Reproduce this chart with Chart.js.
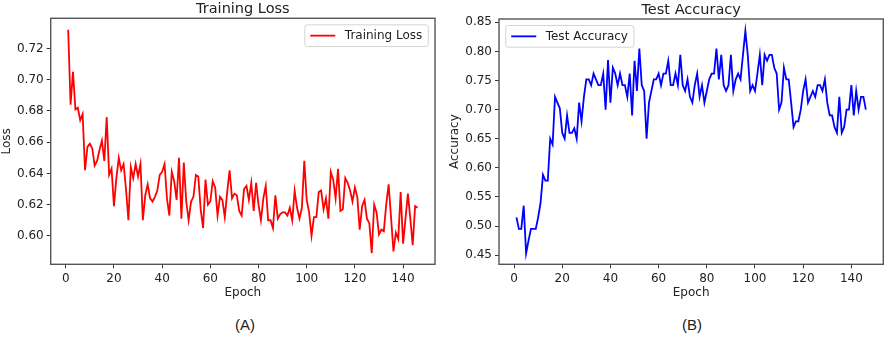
<!DOCTYPE html>
<html>
<head>
<meta charset="utf-8">
<script src="https://cdn.jsdelivr.net/npm/chart.js@4.4.0/dist/chart.umd.min.js"></script>
<style>
  body { margin: 0; background: #fff; width: 886px; height: 338px; position: relative; overflow: hidden; }
  canvas { position: absolute; top: 0; }
  #lossChart { left: 0; }
  #accChart { left: 443px; }
  .cap { position: absolute; top: 316px; font: 15px "Liberation Sans", Arial, sans-serif; color: #222; transform: translateX(-50%); }
</style>
</head>
<body>
<canvas id="lossChart" width="443" height="300"></canvas>
<canvas id="accChart" width="443" height="300"></canvas>
<div class="cap" style="left:245px">(A)</div>
<div class="cap" style="left:692px">(B)</div>
<script>
// values, epoch 1..146
const epochs = Array.from({ length: 146 }, (_, i) => i + 1);

const trainingLoss = [
  0.732, 0.684, 0.705, 0.681, 0.682, 0.674, 0.678, 0.642, 0.657, 0.659,
  0.656, 0.645, 0.648, 0.655, 0.661, 0.648, 0.676, 0.639, 0.643, 0.619,
  0.637, 0.650, 0.642, 0.646, 0.630, 0.610, 0.644, 0.637, 0.646, 0.638,
  0.646, 0.610, 0.626, 0.633, 0.624, 0.622, 0.625, 0.629, 0.639, 0.641,
  0.646, 0.624, 0.613, 0.641, 0.635, 0.623, 0.650, 0.611, 0.647, 0.622,
  0.610, 0.622, 0.625, 0.639, 0.638, 0.617, 0.605, 0.636, 0.620, 0.622,
  0.635, 0.631, 0.613, 0.625, 0.623, 0.612, 0.628, 0.642, 0.624, 0.627,
  0.626, 0.616, 0.613, 0.630, 0.632, 0.623, 0.634, 0.616, 0.634, 0.620,
  0.610, 0.624, 0.632, 0.610, 0.610, 0.605, 0.626, 0.611, 0.614, 0.615,
  0.615, 0.613, 0.618, 0.610, 0.629, 0.618, 0.611, 0.618, 0.648, 0.623,
  0.615, 0.600, 0.612, 0.612, 0.628, 0.629, 0.617, 0.624, 0.611, 0.641,
  0.636, 0.624, 0.643, 0.616, 0.617, 0.637, 0.634, 0.629, 0.622, 0.631,
  0.625, 0.604, 0.619, 0.623, 0.611, 0.608, 0.589, 0.620, 0.615, 0.601,
  0.604, 0.603, 0.620, 0.633, 0.612, 0.590, 0.602, 0.598, 0.628, 0.595,
  0.611, 0.627, 0.611, 0.594, 0.619, 0.618
];

const testAccuracy = [
  0.515, 0.495, 0.495, 0.535, 0.453, 0.475, 0.495, 0.495, 0.495, 0.515,
  0.540, 0.588, 0.578, 0.578, 0.650, 0.640, 0.722, 0.712, 0.702, 0.660,
  0.650, 0.690, 0.660, 0.660, 0.668, 0.650, 0.712, 0.680, 0.722, 0.752,
  0.752, 0.742, 0.762, 0.752, 0.742, 0.742, 0.762, 0.700, 0.785, 0.712,
  0.772, 0.762, 0.742, 0.762, 0.742, 0.742, 0.722, 0.762, 0.690, 0.784,
  0.732, 0.805, 0.742, 0.732, 0.650, 0.712, 0.732, 0.752, 0.752, 0.762,
  0.742, 0.762, 0.762, 0.784, 0.742, 0.742, 0.762, 0.742, 0.794, 0.742,
  0.732, 0.752, 0.722, 0.712, 0.742, 0.762, 0.722, 0.742, 0.712, 0.732,
  0.752, 0.762, 0.762, 0.805, 0.752, 0.794, 0.742, 0.732, 0.742, 0.794,
  0.732, 0.752, 0.762, 0.752, 0.794, 0.835, 0.794, 0.732, 0.742, 0.732,
  0.762, 0.794, 0.742, 0.794, 0.784, 0.794, 0.794, 0.772, 0.762, 0.700,
  0.712, 0.772, 0.752, 0.752, 0.712, 0.670, 0.680, 0.680, 0.700, 0.732,
  0.752, 0.712, 0.722, 0.732, 0.722, 0.742, 0.742, 0.732, 0.752, 0.712,
  0.690, 0.690, 0.670, 0.660, 0.722, 0.660, 0.670, 0.700, 0.700, 0.742,
  0.690, 0.732, 0.700, 0.722, 0.722, 0.700
];

Chart.defaults.font.family = '"DejaVu Sans", sans-serif';
Chart.defaults.font.size = 12;
Chart.defaults.color = '#222';

// frame, title and legend drawn matplotlib-style
const framePlugin = {
  id: 'frame',
  afterDraw(chart, args, opts) {
    const { ctx, chartArea: a } = chart;
    ctx.save();
    ctx.strokeStyle = '#555';
    ctx.lineWidth = 1.4;
    ctx.strokeRect(a.left, a.top, a.right - a.left, a.bottom - a.top);

    ctx.fillStyle = '#222';
    ctx.font = '14.5px "DejaVu Sans"';
    ctx.textAlign = 'center';
    ctx.textBaseline = 'alphabetic';
    ctx.fillText(opts.title, (a.left + a.right) / 2, a.top - 5);

    const ds = chart.data.datasets[0];
    ctx.font = '12px "DejaVu Sans"';
    const tw = ctx.measureText(ds.label).width;
    const w = 5.5 + 25 + 9.5 + tw + 6, h = 21.7;
    const x = opts.side === 'right' ? a.right - 6.7 - w : a.left + 6.7;
    const y = a.top + 6.5;
    ctx.beginPath();
    ctx.roundRect(x, y, w, h, 2.5);
    ctx.fillStyle = 'rgba(255,255,255,0.85)';
    ctx.fill();
    ctx.strokeStyle = '#d4d4d4';
    ctx.lineWidth = 1;
    ctx.stroke();
    ctx.beginPath();
    ctx.moveTo(x + 5.5, y + h / 2);
    ctx.lineTo(x + 30.5, y + h / 2);
    ctx.strokeStyle = ds.borderColor;
    ctx.lineWidth = 1.8;
    ctx.stroke();
    ctx.fillStyle = '#222';
    ctx.textAlign = 'left';
    ctx.textBaseline = 'middle';
    ctx.fillText(ds.label, x + 40, y + h / 2 + 0.5);
    ctx.restore();
  }
};

function makeChart(id, label, values, color, yMin, yMax, yStep, yTitle, title, side, pad, yWidth) {
  return new Chart(document.getElementById(id), {
    type: 'line',
    data: {
      datasets: [{
        label: label,
        data: epochs.map((e, i) => ({ x: e, y: values[i] })),
        borderColor: color,
        borderWidth: 1.8,
        pointRadius: 0,
        tension: 0,
        fill: false
      }]
    },
    options: {
      responsive: false,
      devicePixelRatio: 1,
      animation: false,
      layout: { padding: pad },
      plugins: {
        legend: { display: false },
        tooltip: { enabled: false },
        frame: { title: title, side: side }
      },
      scales: {
        x: {
          type: 'linear',
          min: -6.25,
          max: 153.25,
          border: { display: false },
          grid: { drawOnChartArea: false, drawTicks: true, tickLength: 4, tickColor: '#333' },
          ticks: { stepSize: 20, includeBounds: false, padding: 3, maxRotation: 0 },
          title: { display: true, text: 'Epoch', padding: { top: 0, bottom: 0 } },
          afterFit(scale) { scale.height = 35.7; }
        },
        y: {
          min: yMin,
          max: yMax,
          border: { display: false },
          grid: { drawOnChartArea: false, drawTicks: true, tickLength: 4, tickColor: '#333' },
          ticks: { stepSize: yStep, includeBounds: false, padding: 3, callback: v => v.toFixed(2) },
          title: { display: true, text: yTitle, padding: { top: 0, bottom: 0 } },
          afterFit(scale) { scale.width = yWidth; }
        }
      }
    },
    plugins: [framePlugin]
  });
}

makeChart('lossChart', 'Training Loss', trainingLoss, '#ff0000',
  0.5818, 0.7393, 0.02, 'Loss', 'Training Loss', 'right',
  { left: 0, top: 18.3, right: 8, bottom: 0 }, 50.7);

makeChart('accChart', 'Test Accuracy', testAccuracy, '#0000ff',
  0.4343, 0.8557, 0.05, 'Accuracy', 'Test Accuracy', 'left',
  { left: 5, top: 19, right: 2.7, bottom: 0 }, 51);
</script>
</body>
</html>
